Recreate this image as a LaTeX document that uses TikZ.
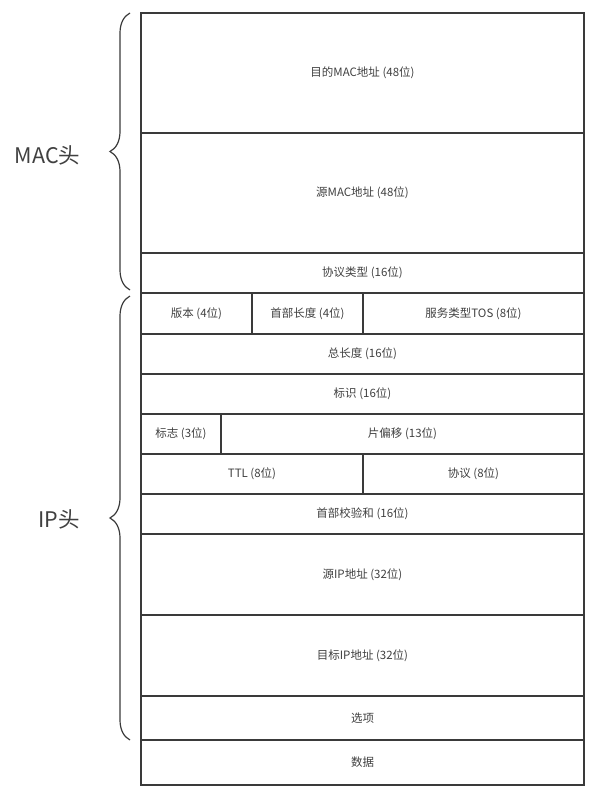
\documentclass[tikz,border=0pt]{standalone}
\usepackage{fontspec}
\setmainfont{Noto Sans CJK SC}
\usetikzlibrary{decorations.pathreplacing}
\definecolor{ln}{HTML}{3A3A3A}
\definecolor{tx}{HTML}{404040}
\tikzset{
  field/.style={draw=ln, line width=1.2pt, inner sep=0pt, text=tx, font=\fontsize{11.5}{13}\selectfont},
  bigbrace/.style={draw=ln, line width=1.2pt, decorate, decoration={brace, amplitude=20pt}},
  headlabel/.style={text=tx, font=\fontsize{21.5}{24}\selectfont, inner sep=0pt}
}
\newcommand{\fld}[6]{%
  \node[field, minimum width={(#4-#2)*1pt}, minimum height={(#5-#3)*1pt}] (#1) at ({(#2+#4)/2},{(#3+#5)/2}) {#6};}
\begin{document}
\begin{tikzpicture}[x=1pt,y=-1pt]
\useasboundingbox (0,0) rectangle (598,800);
\fld{dmac}{141}{13}{584}{133}{目的MAC地址 (48位)}
\fld{smac}{141}{133}{584}{253}{源MAC地址 (48位)}
\fld{ptype}{141}{253}{584}{293}{协议类型 (16位)}
\fld{ver}{141}{293}{252}{334}{版本 (4位)}
\fld{hlen}{252}{293}{363}{334}{首部长度 (4位)}
\fld{tos}{363}{293}{584}{334}{服务类型TOS (8位)}
\fld{tlen}{141}{334}{584}{374}{总长度 (16位)}
\fld{ident}{141}{374}{584}{414}{标识 (16位)}
\fld{flags}{141}{414}{221}{454}{标志 (3位)}
\fld{frag}{221}{414}{584}{454}{片偏移 (13位)}
\fld{ttl}{141}{454}{363}{494}{TTL (8位)}
\fld{proto}{363}{454}{584}{494}{协议 (8位)}
\fld{csum}{141}{494}{584}{534}{首部校验和 (16位)}
\fld{sip}{141}{534}{584}{615}{源IP地址 (32位)}
\fld{dip}{141}{615}{584}{696}{目标IP地址 (32位)}
\fld{opt}{141}{696}{584}{740}{选项}
\fld{data}{141}{740}{584}{785}{数据}
\coordinate (macTop) at (130,13);
\coordinate (macBot) at (130,290);
\coordinate (ipTop) at (130,296);
\coordinate (ipBot) at (130,740);
\draw[bigbrace] (macBot) -- (macTop);
\draw[bigbrace] (ipBot) -- (ipTop);
\node[headlabel] (maclbl) at (47.5,155) {MAC头};
\node[headlabel] (iplbl) at (59,519) {IP头};
\end{tikzpicture}
\end{document}
